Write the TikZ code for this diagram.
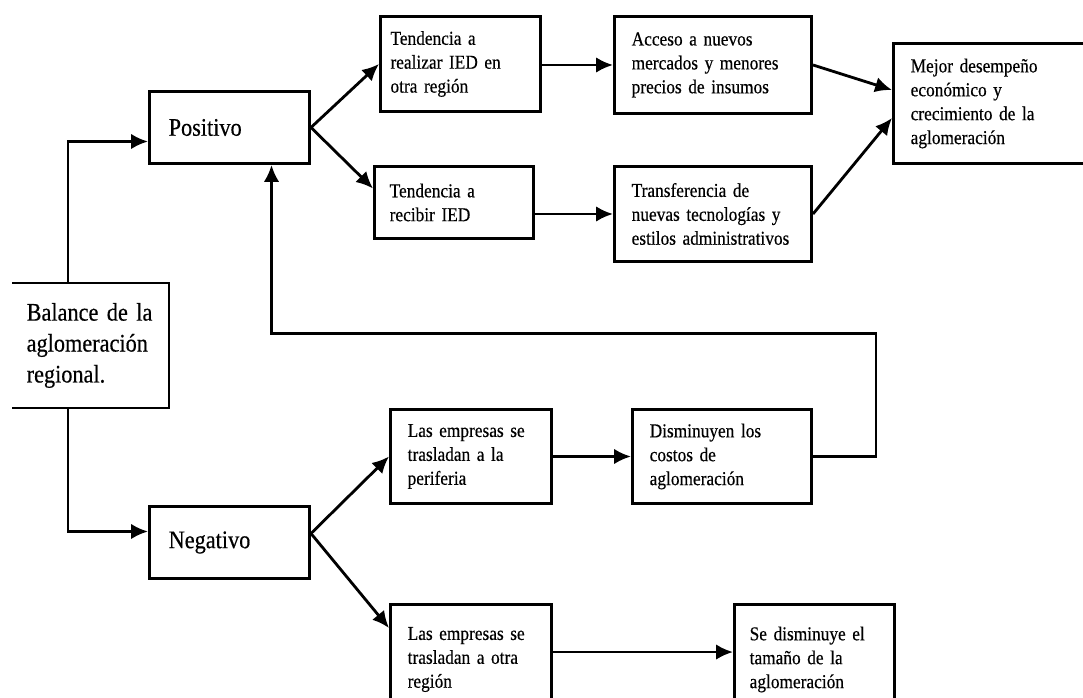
\documentclass[tikz,border=0pt]{standalone}
\usepackage{fontspec}
\setmainfont{Liberation Serif}[FakeStretch=0.88, WordSpace=0.8, FakeBold=0.4]
\usepackage{tikz}
\usetikzlibrary{arrows.meta}

\begin{document}
\begin{tikzpicture}[x=0.025cm, y=-0.025cm,
            box/.style={draw, line width=2.1pt, anchor=north west, align=left,
                inner xsep=0.43cm, inner ysep=0pt, font=\fontsize{14}{17}\selectfont},
            big/.style={font=\fontsize{18}{22}\selectfont},
            arr/.style={-{Latex[length=12pt,width=11pt]}, line width=2pt}]
            \useasboundingbox (0,0) rectangle (1083,697);
            \clip (0,0) rectangle (1083,697);

            % Start box, open on the left
            \node[box, draw=none, big, inner xsep=0.33cm, text width=3.19cm, minimum height=3.05cm] (bal) at (12,283) {Balance de la\\aglomeración\\regional.};
            \draw[line width=2.1pt] (bal.north west) -- (bal.north east) -- (bal.south east) -- (bal.south west);

            % The two branches
            \node[box, big, inner xsep=0.48cm, text width=3.04cm, minimum height=1.8cm] (pos) at (148,90) {Positivo};
            \node[box, big, inner xsep=0.48cm, text width=3.04cm, minimum height=1.8cm] (neg) at (148,505) {Negativo};

            % Positive side
            \node[box, inner xsep=0.25cm, text width=3.5cm, minimum height=2.375cm] (t1) at (379,15) {Tendencia a\\realizar IED en\\otra región};
            \node[box, inner xsep=0.38cm, text width=3.215cm, minimum height=1.8cm] (t2) at (373,165) {Tendencia a\\recibir IED};
            \node[box, text width=4.065cm, minimum height=2.425cm] (acc) at (613,15) {Acceso a nuevos\\mercados y menores\\precios de insumos};
            \node[box, text width=4.065cm, minimum height=2.375cm] (tra) at (613,165) {Transferencia de\\nuevas tecnologías y\\estilos administrativos};
            \node[box, text width=4.14cm, minimum height=3cm] (mej) at (892,42) {Mejor desempeño\\económico y\\crecimiento de la\\aglomeración};

            % Negative side
            \node[box, text width=3.165cm, minimum height=2.35cm] (per) at (389,408) {Las empresas se\\trasladan a la\\periferia};
            \node[box, text width=3.615cm, minimum height=2.35cm] (dis) at (631,408) {Disminuyen los\\costos de\\aglomeración};
            \node[box, text width=3.165cm, minimum height=2.75cm] (otr) at (389,603) {Las empresas se\\trasladan a otra\\región};
            \node[box, inner xsep=0.38cm, text width=3.24cm, minimum height=2.75cm] (sed) at (733,603) {Se disminuye el\\tamaño de la\\aglomeración};

            % Arrows
            \draw[arr] ([xshift=1.4cm]bal.north west) |- ([yshift=-0.35cm]pos.west);
            \draw[arr] ([xshift=1.4cm]bal.south west) |- ([yshift=0.275cm]neg.west);
            \draw[arr] (pos.east) -- (t1.west);
            \draw[arr] (pos.east) -- ([yshift=0.35cm]t2.west);
            \draw[arr] (t1.east |- acc.west) -- (acc.west);
            \draw[arr] (t2.east |- tra.west) -- (tra.west);
            \draw[arr] (acc.east) -- ([yshift=-1.2cm]mej.north west);
            \draw[arr] (tra.east) -- ([yshift=-1.9cm]mej.north west);
            \draw[arr] ([yshift=0.225cm]neg.east) -- (per.west);
            \draw[arr] ([yshift=0.225cm]neg.east) -- ([yshift=-0.625cm]otr.north west);
            \draw[arr] (per.east) -- (dis.west);
            \draw[arr] ([yshift=-1.225cm]otr.north east) -- ([yshift=-1.225cm]sed.north west);

            % Feedback to the positive side
            \draw[arr] (dis.east) -- ++(63,0) -- ++(0,-123) -| ([xshift=1.05cm]pos.south);
        \end{tikzpicture}
\end{document}
